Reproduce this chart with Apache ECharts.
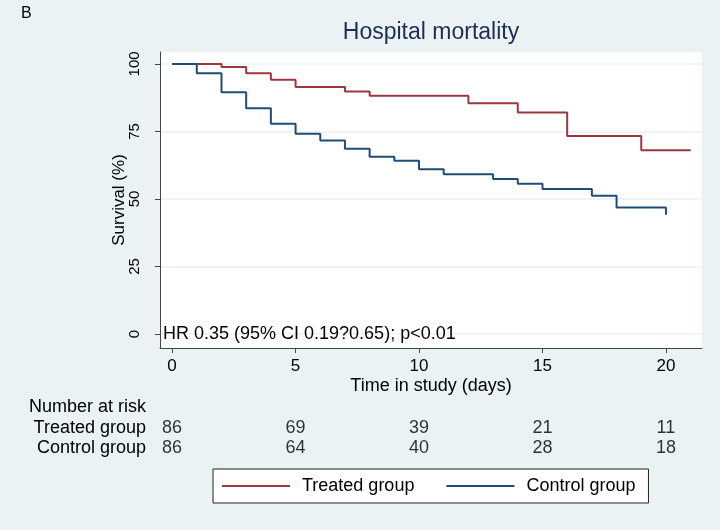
<!DOCTYPE html>
<html>
<head>
<meta charset="utf-8">
<script src="https://cdn.jsdelivr.net/npm/echarts@6/dist/echarts.min.js"></script>
<style>
  html, body { margin: 0; padding: 0; background: #eaf2f3; }
  #chart { width: 720px; height: 530px; }
</style>
</head>
<body>
<div id="chart"></div>
<script>
// Kaplan-Meier steps (time in days, survival %)
const treatedTimes = [0, 2, 3, 4, 5, 7, 8, 12, 14, 16, 19, 21];
const treatedSurv = [100, 98.8, 96.5, 94.1, 91.4, 89.8, 88.2, 85.4, 82.0, 73.3, 68.0, 68.0];
const controlTimes = [0, 1, 2, 3, 4, 5, 6, 7, 8, 9, 10, 11, 13, 14, 15, 17, 18, 20];
const controlSurv = [100, 96.5, 89.5, 83.6, 77.8, 74.1, 71.6, 68.6, 65.6, 64.1, 61.0, 59.1, 57.4, 55.6, 53.7, 51.2, 46.8, 44.1];

// number at risk table
const riskDays = [0, 5, 10, 15, 20];
const groups = ['Treated group', 'Control group'];
const treatedAtRisk = [86, 69, 39, 21, 11];
const controlAtRisk = [86, 64, 40, 28, 18];

// tick labels
const xTicks = [0, 5, 10, 15, 20];
const yTicks = [0, 25, 50, 75, 100];

const FONT = 'Liberation Sans';
const RED = '#9a3740';
const BLUE = '#1f4d78';
const BG = '#eaf2f3';

const zip = (xs, ys) => xs.map((x, i) => [x, ys[i]]);

const riskData = [];
treatedAtRisk.forEach((n, i) => riskData.push([riskDays[i], groups[0], n]));
controlAtRisk.forEach((n, i) => riskData.push([riskDays[i], groups[1], n]));

const chart = echarts.init(document.getElementById('chart'));

chart.setOption({
  backgroundColor: BG,
  animation: false,
  textStyle: { fontFamily: FONT },
  grid: [
    { left: 160, right: 18, top: 52, bottom: 182, show: true,
      backgroundColor: '#fff', borderWidth: 0 },
    { left: 160, right: 18, top: 418, height: 40 }
  ],
  xAxis: [{
    gridIndex: 0, type: 'value', min: -0.49, max: 21.46,
    name: 'Time in study (days)', nameLocation: 'middle', nameGap: 29, nameMoveOverlap: false,
    nameTextStyle: { fontSize: 18, color: '#000', fontFamily: FONT },
    axisLine: { onZero: false, lineStyle: { color: '#444', width: 1 } },
    axisTick: { show: true, length: 5, customValues: xTicks, lineStyle: { color: '#444' } },
    axisLabel: { customValues: xTicks, fontSize: 17, color: '#000', margin: 10, fontFamily: FONT },
    splitLine: { show: false }
  }, {
    gridIndex: 1, type: 'value', min: -0.49, max: 21.46, show: false
  }],
  yAxis: [{
    gridIndex: 0, type: 'value', min: -5.2, max: 104.4,
    name: 'Survival (%)', nameLocation: 'middle', nameGap: 32, nameMoveOverlap: false,
    nameTextStyle: { fontSize: 17, color: '#000', fontFamily: FONT },
    axisLine: { show: true, onZero: false, lineStyle: { color: '#444', width: 1 } },
    axisTick: { show: true, length: 5, customValues: yTicks, lineStyle: { color: '#444' } },
    axisLabel: { customValues: yTicks, rotate: 90, fontSize: 15, color: '#000', margin: 18, fontFamily: FONT },
    splitLine: { show: true, lineStyle: { color: BG, width: 1.5 } }
  }, {
    gridIndex: 1, type: 'category', data: groups, inverse: true,
    axisLine: { show: false }, axisTick: { show: false },
    axisLabel: { interval: 0, fontSize: 18, color: '#000', margin: 14, fontFamily: FONT }
  }],
  legend: {
    data: groups,
    selectedMode: false,
    left: 213, top: 469,
    padding: [8, 13, 8, 9],
    itemGap: 32,
    itemWidth: 68, itemHeight: 2,
    icon: 'rect',
    backgroundColor: '#fff',
    borderColor: '#222', borderWidth: 1, borderRadius: 0,
    textStyle: { fontSize: 18, color: '#000', fontFamily: FONT, padding: [0, 0, 0, 7] }
  },
  graphic: [
    { type: 'text', left: 21, top: 6,
      style: { text: 'B', fontSize: 16, fill: '#000', fontFamily: FONT } },
    { type: 'text', x: 431, y: 33,
      style: { text: 'Hospital mortality', fontSize: 23, fill: '#1e2d53', fontFamily: FONT,
        align: 'center', verticalAlign: 'middle' } },
    { type: 'text', x: 163, y: 334, z: 10,
      style: { text: 'HR 0.35 (95% CI 0.19?0.65); p<0.01', fontSize: 18, fill: '#000', fontFamily: FONT,
        align: 'left', verticalAlign: 'middle' } },
    { type: 'text', x: 29, y: 407,
      style: { text: 'Number at risk', fontSize: 18, fill: '#000', fontFamily: FONT,
        align: 'left', verticalAlign: 'middle' } }
  ],
  series: [{
    name: 'Treated group', type: 'line', step: 'end',
    xAxisIndex: 0, yAxisIndex: 0,
    data: zip(treatedTimes, treatedSurv),
    showSymbol: false, symbol: 'none',
    lineStyle: { color: RED, width: 2 }, itemStyle: { color: RED }
  }, {
    name: 'Control group', type: 'line', step: 'end',
    xAxisIndex: 0, yAxisIndex: 0,
    data: zip(controlTimes, controlSurv),
    showSymbol: false, symbol: 'none',
    lineStyle: { color: BLUE, width: 2 }, itemStyle: { color: BLUE }
  }, {
    name: 'at risk', type: 'scatter',
    xAxisIndex: 1, yAxisIndex: 1,
    data: riskData,
    symbolSize: 1,
    itemStyle: { color: 'transparent' },
    label: { show: true, position: 'inside', formatter: p => String(p.value[2]),
      fontSize: 18, color: '#000', fontFamily: FONT }
  }]
});
</script>
</body>
</html>
